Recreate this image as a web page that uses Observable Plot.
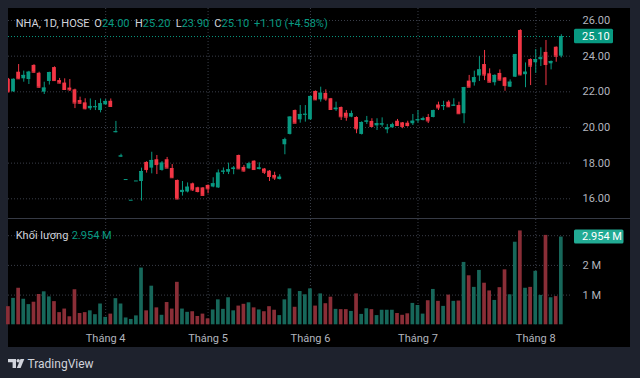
<!DOCTYPE html>
<html>
<head>
<meta charset="utf-8">
<script src="https://cdn.jsdelivr.net/npm/d3@7"></script>
<script src="https://cdn.jsdelivr.net/npm/@observablehq/plot@0.6"></script>
<style>
  html, body { margin: 0; padding: 0; background: #1e222d; }
  #root { position: relative; width: 640px; height: 378px; overflow: hidden; background: #1e222d; font-family: Roboto, "Noto Sans", sans-serif; }
  #panel { position: absolute; left: 8px; top: 8px; width: 622px; height: 339px; background: #000; }
  #price { position: absolute; left: 8px; top: 8px; }
  #vol { position: absolute; left: 8px; top: 219px; }
  #sep { position: absolute; left: 8px; top: 218px; width: 622px; height: 1px; background: #363a45; }
  #overlay { position: absolute; left: 0; top: 0; pointer-events: none; }
  #price svg, #vol svg { display: block; }
</style>
</head>
<body>
<div id="root">
  <div id="panel"></div>
  <div id="price"></div>
  <div id="sep"></div>
  <div id="vol"></div>
</div>
<script>
// ---- data ----
const symbol = "NHA, 1D, HOSE";
const open = [22.70,22.00,23.10,22.73,22.69,23.48,23.04,21.98,22.58,23.36,
  22.63,22.49,22.21,22.11,21.51,21.38,21.05,21.12,20.95,21.27,
  21.47,19.72,18.35,17.08,15.92,17.00,16.97,18.04,17.72,18.19,
  17.59,18.19,17.70,17.03,16.35,16.38,16.84,16.62,16.61,16.75,
  16.66,16.61,17.50,17.49,17.64,18.43,17.76,17.68,18.11,17.64,
  17.67,17.55,17.31,17.08,19.03,19.61,20.95,20.43,20.70,20.43,
  22.02,21.55,21.91,21.61,20.99,21.12,20.80,20.58,20.56,19.61,
  20.30,20.34,20.09,20.14,19.87,19.98,20.35,20.26,20.24,20.21,
  20.38,20.39,20.56,20.56,21.26,21.17,21.42,21.20,21.23,20.77,
  22.60,22.51,22.89,23.53,23.01,22.51,23.03,22.78,22.26,22.82,
  25.44,22.96,23.81,23.63,23.80,24.21,23.57,24.50,24.00];
const high = [22.75,22.72,23.53,23.16,23.15,23.52,23.10,22.54,23.10,23.40,
  22.75,22.73,22.69,22.15,21.70,21.61,21.60,21.51,21.60,21.57,
  21.60,20.34,18.50,17.08,15.92,17.00,17.72,18.08,18.61,18.43,
  18.09,18.32,17.92,17.05,16.97,16.89,16.88,16.65,16.63,16.78,
  17.18,17.62,17.73,18.00,17.81,18.45,17.87,18.05,18.13,18.02,
  17.70,17.58,17.49,17.35,19.40,20.60,20.98,21.23,21.23,21.76,
  22.05,22.26,22.11,21.63,21.42,21.15,20.95,20.92,20.60,20.32,
  20.62,20.49,20.49,20.54,20.17,20.24,20.45,20.28,20.35,20.73,
  20.95,20.58,20.73,20.97,21.42,21.47,21.50,21.61,21.42,22.25,
  22.92,23.16,23.98,24.32,23.29,22.95,23.23,22.80,22.67,24.10,
  25.48,23.62,23.85,24.37,24.47,24.88,23.73,24.52,25.20];
const low = [21.95,21.97,22.70,22.54,22.41,23.05,22.20,21.85,22.38,22.60,
  22.45,22.10,22.02,21.06,21.30,20.99,20.95,20.95,20.82,21.25,
  21.15,19.70,18.33,17.08,15.92,17.00,15.87,17.44,17.40,17.36,
  17.55,17.70,17.15,15.95,16.15,16.33,16.41,16.33,16.17,16.28,
  16.62,16.58,17.36,17.36,17.35,17.66,17.49,17.66,17.62,17.62,
  17.36,16.97,17.03,17.06,18.47,19.58,20.22,20.24,20.30,20.40,
  21.52,21.42,21.47,20.99,20.90,20.39,20.35,20.55,19.65,19.58,
  20.17,19.98,19.83,20.02,19.65,19.96,20.08,19.93,20.02,20.11,
  20.24,20.37,20.22,20.54,20.95,20.95,21.12,21.18,20.75,20.21,
  22.24,22.32,22.58,22.63,22.52,22.33,22.60,22.03,22.24,22.80,
  22.90,22.23,22.35,23.03,23.42,22.35,23.23,23.66,23.90];
const close = [22.00,22.70,22.73,22.92,23.10,23.10,22.26,22.21,23.08,22.63,
  22.49,22.13,22.11,21.37,21.36,21.05,21.18,21.16,21.33,21.46,
  21.18,19.76,18.40,17.08,15.92,17.00,17.53,17.64,18.15,17.92,
  18.00,17.72,17.18,15.99,16.47,16.65,16.50,16.41,16.19,16.56,
  16.84,17.44,17.55,17.63,17.72,17.68,17.56,17.96,17.64,17.73,
  17.49,17.25,17.17,17.21,19.31,20.58,20.24,20.73,20.74,21.74,
  21.55,21.92,21.60,21.01,21.08,20.60,20.58,20.77,19.93,20.28,
  20.36,20.06,20.21,20.20,19.98,20.15,20.11,20.06,20.11,20.35,
  20.43,20.49,20.37,20.94,21.10,21.23,21.16,21.25,20.77,22.23,
  22.26,22.79,23.23,22.94,22.54,22.92,22.66,22.35,22.54,24.08,
  22.95,23.10,23.44,23.81,23.91,23.53,23.70,24.00,25.10];
// volume in millions of shares
const volume = [0.61,0.89,1.23,0.86,0.68,0.76,1.02,1.11,0.94,0.78,
  0.41,0.53,0.27,1.18,0.38,0.41,0.47,0.34,0.70,0.25,
  0.36,0.88,0.70,0.23,0.18,0.30,1.91,0.47,1.30,0.57,
  0.32,0.75,0.53,1.43,0.53,0.42,0.44,0.28,0.36,0.20,
  0.50,0.84,0.52,0.91,0.47,0.63,0.69,0.74,0.57,0.50,
  0.44,0.61,0.49,0.31,0.84,1.21,0.59,1.12,1.01,1.21,
  0.63,1.04,0.71,0.93,0.52,0.51,0.51,0.45,1.04,0.35,
  0.54,0.51,0.31,0.49,0.49,0.49,0.38,0.32,0.37,0.72,
  0.65,0.36,0.81,1.19,0.79,0.62,1.00,0.79,0.80,2.10,
  1.65,1.26,1.83,1.40,1.14,0.82,1.25,1.85,1.01,2.78,
  3.16,1.23,1.26,1.80,0.99,3.01,0.91,0.95,2.954];
const monthTicks = [19, 39, 59, 80, 103];
const monthLabels = ["Tháng 4", "Tháng 5", "Tháng 6", "Tháng 7", "Tháng 8"];
const priceTicks = [16, 18, 20, 22, 24, 26];
const volumeTicks = [1, 2];
const volumeGrid = [1, 2, 3];

// ---- styling ----
const UP = "#089981", DOWN = "#f23645";
const VUP = "#17675a", VDOWN = "#8a2e37";
const GRID = "#3a3e49";
const TXT = "#b2b5be";
const FONT = "Roboto, 'Noto Sans', sans-serif";
const W = 622, MR = 58;
const xDomain = [0.02, 110.18];
const HW = 0.37;

const bars = d3.range(close.length).map(i => ({
  i, o: open[i], h: high[i], l: low[i], c: close[i], v: volume[i], up: close[i] >= open[i]
}));
const last = bars[bars.length - 1];
const prev = bars[bars.length - 2];

const baseStyle = {background: "transparent", color: TXT, fontFamily: FONT, fontSize: "11px", overflow: "visible"};

const candleMarks = (up, color) => [
  Plot.ruleX(bars, {filter: d => d.up === up, x: "i", y1: "l", y2: "h", stroke: color, strokeWidth: 1, clip: true}),
  Plot.rect(bars, {filter: d => d.up === up, x1: d => d.i - HW, x2: d => d.i + HW, y1: "o", y2: "c", fill: color, clip: true}),
  Plot.ruleY(bars, {filter: d => d.up === up, x1: d => d.i - HW, x2: d => d.i + HW, y: "c", stroke: color, clip: true})
];

const pricePlot = Plot.plot({
  width: W, height: 210,
  marginLeft: 0, marginRight: MR, marginTop: 0, marginBottom: 0,
  style: baseStyle,
  x: {domain: xDomain, axis: null},
  y: {domain: [14.895, 26.673], axis: "right", ticks: priceTicks, tickSize: 0, tickPadding: 10,
      tickFormat: d => d.toFixed(2), label: null},
  marks: [
    Plot.ruleY(priceTicks, {stroke: GRID, strokeDasharray: "1,2"}),
    Plot.ruleX(monthTicks, {stroke: GRID, strokeDasharray: "1,2"}),
    Plot.ruleY([last.c], {stroke: UP, strokeDasharray: "1,2"}),
    ...candleMarks(true, UP),
    ...candleMarks(false, DOWN)
  ]
});
document.getElementById("price").appendChild(pricePlot);

const VH = 128, VMB = 22.7;
const volPlot = Plot.plot({
  width: W, height: VH,
  marginLeft: 0, marginRight: MR, marginTop: 0, marginBottom: VMB,
  style: baseStyle,
  x: {domain: xDomain, axis: "bottom", ticks: monthTicks, tickSize: 0, tickPadding: 9.5,
      tickFormat: d => monthLabels[monthTicks.indexOf(d)], label: null},
  y: {domain: [0, 3.545], axis: "right", ticks: volumeTicks, tickSize: 0, tickPadding: 10,
      tickFormat: d => d + " M", label: null},
  marks: [
    Plot.ruleY(volumeGrid, {stroke: GRID, strokeDasharray: "1,2"}),
    Plot.ruleX(monthTicks, {stroke: GRID, strokeDasharray: "1,2"}),
    Plot.rect(bars, {filter: d => d.up, x1: d => d.i - 0.36, x2: d => d.i + 0.36, y1: d => 0, y2: "v", fill: VUP}),
    Plot.rect(bars, {filter: d => !d.up, x1: d => d.i - 0.36, x2: d => d.i + 0.36, y1: d => 0, y2: "v", fill: VDOWN})
  ]
});
document.getElementById("vol").appendChild(volPlot);

// ---- overlay: legends, last-value labels, footer ----
const ov = d3.select("#root").append("svg").attr("id", "overlay")
  .attr("width", 640).attr("height", 378)
  .style("font-family", FONT).style("font-size", "11px");

const chg = last.c - prev.c;
const pct = chg / prev.c * 100;
const sign = v => (v >= 0 ? "+" : "") + v.toFixed(2);
const lg = ov.append("text").attr("y", 27.3);
lg.append("tspan").attr("x", 15.7).attr("fill", "#d1d4dc").text(symbol);
[["O", last.o, 94.3], ["H", last.h, 135], ["L", last.l, 175.7], ["C", last.c, 214.3]].forEach(([k, v, x]) => {
  lg.append("tspan").attr("x", x).attr("fill", "#d1d4dc").text(k);
  lg.append("tspan").attr("fill", UP).text(v.toFixed(2));
});
lg.append("tspan").attr("x", 254).attr("fill", UP).text(`${sign(chg)} (${sign(pct)}%)`);

const vl = ov.append("text").attr("y", 239);
vl.append("tspan").attr("x", 15.7).attr("fill", "#d1d4dc").text("Khối lượng");
vl.append("tspan").attr("x", 71.7).attr("fill", UP).text(last.v.toFixed(3) + " M");

// last price box
const py = 8 + pricePlot.scale("y").apply(last.c);
ov.append("rect").attr("x", 574).attr("y", py - 7.3).attr("width", 39).attr("height", 14.6).attr("rx", 1.5).attr("fill", UP);
ov.append("text").attr("x", 582).attr("y", py + 3.7).attr("fill", "#fff").text(last.c.toFixed(2));

// last volume box
const vy = 219 + volPlot.scale("y").apply(last.v);
ov.append("rect").attr("x", 574).attr("y", vy - 7).attr("width", 49.5).attr("height", 14).attr("rx", 1.5).attr("fill", "#22ab94");
ov.append("text").attr("x", 582).attr("y", vy + 3.8).attr("fill", "#fff").text(last.v.toFixed(3) + " M");

// footer logo
const lgo = ov.append("g").attr("fill", "#d1d4dc");
lgo.append("path").attr("d", "M8 359 H16 V368 H12.6 V362.2 H8 Z");
lgo.append("circle").attr("cx", 18.2).attr("cy", 360.8).attr("r", 1.7);
lgo.append("path").attr("d", "M20.5 359 H24.3 L20.6 368 H16.8 Z");
ov.append("text").attr("x", 27.5).attr("y", 367.5).attr("fill", "#d1d4dc")
  .style("font-size", "12px").text("TradingView");
</script>
</body>
</html>
